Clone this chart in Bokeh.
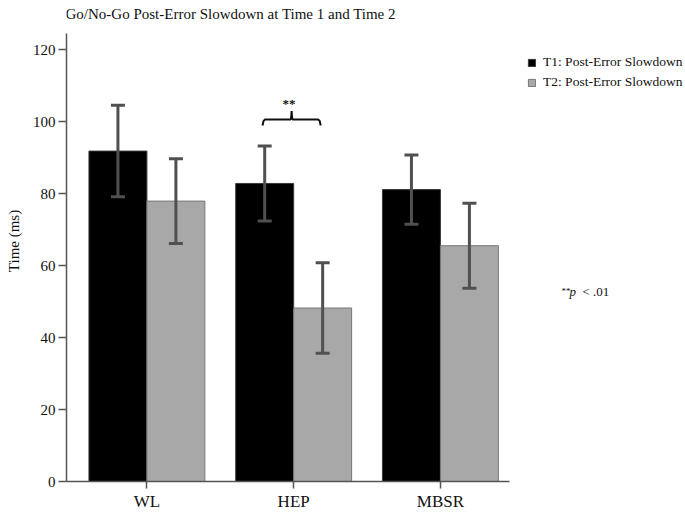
from bokeh.plotting import figure
from bokeh.models import (ColumnDataSource, FixedTicker, Whisker, TeeHead, Label,
                          Legend, LegendItem)
from bokeh.core.properties import value
from bokeh.embed import file_html
from bokeh.resources import INLINE

# ---- data ----
groups = ["WL", "HEP", "MBSR"]
t1_mean = [91.8, 82.8, 81.1]
t1_se = [12.7, 10.4, 9.6]
t2_mean = [77.9, 48.2, 65.5]
t2_se = [11.8, 12.6, 11.8]
series_names = ["T1: Post-Error Slowdown", "T2: Post-Error Slowdown"]
y_ticks = [0, 20, 40, 60, 80, 100, 120]
title_text = "Go/No-Go Post-Error Slowdown at Time 1 and Time 2"

SERIF = "Liberation Serif"
BAR_W = 0.395
OFF = BAR_W / 2
pos = [i + 1 for i in range(len(groups))]
Y_AXIS_TOP = 124.5

p = figure(width=685, height=513, x_range=(0.452, 4.67), y_range=(0, 133.63),
           output_backend="svg", toolbar_location=None,
           min_border_left=66, min_border_top=0, min_border_bottom=30,
           min_border_right=0)
p.title = None
p.outline_line_color = None
p.xgrid.grid_line_color = None
p.ygrid.grid_line_color = None
p.background_fill_color = "white"

src1 = ColumnDataSource(dict(x=[v - OFF for v in pos], top=t1_mean,
                             lo=[m - s for m, s in zip(t1_mean, t1_se)],
                             hi=[m + s for m, s in zip(t1_mean, t1_se)]))
src2 = ColumnDataSource(dict(x=[v + OFF for v in pos], top=t2_mean,
                             lo=[m - s for m, s in zip(t2_mean, t2_se)],
                             hi=[m + s for m, s in zip(t2_mean, t2_se)]))

r1 = p.vbar(x="x", top="top", width=BAR_W, bottom=0, source=src1,
            fill_color="#000000", line_color="#3a3a3a", line_width=1)
r2 = p.vbar(x="x", top="top", width=BAR_W, bottom=0, source=src2,
            fill_color="#a8a8a8", line_color="#777777", line_width=1)

for src in (src1, src2):
    w = Whisker(base="x", lower="lo", upper="hi", source=src,
                line_color="#505050", line_width=3, level="overlay",
                upper_head=TeeHead(size=14, line_color="#505050", line_width=3),
                lower_head=TeeHead(size=14, line_color="#505050", line_width=3))
    p.add_layout(w)

# significance bracket over HEP
hx = pos[1]
bx = [hx - 0.212, hx - 0.206, hx - 0.195, hx - 0.02, hx - 0.017, hx - 0.014,
      hx - 0.011, hx - 0.008, hx + 0.167, hx + 0.178, hx + 0.184]
by = [98.9, 100.1, 100.6, 100.6, 101.2, 102.9, 101.2, 100.6, 100.6, 100.1, 98.9]
p.line(bx, by, line_color="#111111", line_width=2)
p.text(x=[hx - 0.031], y=[105.0], text=["**"], text_font=value(SERIF),
       text_font_size="13px", text_font_style="bold", text_align="center",
       text_baseline="alphabetic", text_color="#111111")

# title (inside the extended frame area)
p.add_layout(Label(x=-1, y=468, x_units="screen", y_units="screen",
                   text=title_text, text_font=SERIF, text_font_size="15px",
                   text_align="left", text_baseline="alphabetic",
                   text_color="#111111"))

# axes
yax = p.yaxis[0]
yax.ticker = FixedTicker(ticks=y_ticks)
yax.bounds = (0, Y_AXIS_TOP)
yax.major_tick_out = 8
yax.major_tick_in = 0
yax.minor_tick_line_color = None
yax.axis_line_color = "#555555"
yax.axis_line_width = 1.5
yax.major_tick_line_color = "#555555"
yax.major_tick_line_width = 1.5
yax.major_label_text_font = SERIF
yax.major_label_text_font_size = "15px"
yax.major_label_text_color = "#111111"
yax.major_label_standoff = 3
yax.axis_label = "Time (ms)"
yax.axis_label_text_font = SERIF
yax.axis_label_text_font_size = "15px"
yax.axis_label_text_font_style = "normal"
yax.axis_label_text_color = "#111111"
yax.axis_label_standoff = 8

xax = p.xaxis[0]
xax.ticker = FixedTicker(ticks=pos)
xax.major_label_overrides = {xp: g for xp, g in zip(pos, groups)}
xax.bounds = (0.452, 3.47)
xax.major_tick_out = 7
xax.major_tick_in = 0
xax.minor_tick_line_color = None
xax.axis_line_color = "#555555"
xax.axis_line_width = 1.5
xax.major_tick_line_color = "#555555"
xax.major_tick_line_width = 1.5
xax.major_label_text_font = SERIF
xax.major_label_text_font_size = "17px"
xax.major_label_text_color = "#111111"
xax.major_label_standoff = 3

# legend
legend = Legend(items=[LegendItem(label=series_names[0], renderers=[r1]),
                       LegendItem(label=series_names[1], renderers=[r2])],
                location=(461, 389), orientation="vertical",
                glyph_width=9, glyph_height=9, label_standoff=7,
                label_height=20, spacing=0, padding=0, margin=0,
                label_text_font=SERIF, label_text_font_size="13.5px",
                label_text_color="#111111",
                border_line_color=None, background_fill_alpha=0)
p.add_layout(legend)

# p-value note
p.add_layout(Label(x=495, y=191, x_units="screen", y_units="screen", text="**",
                   text_font=SERIF, text_font_size="9px",
                   text_baseline="alphabetic", text_color="#111111"))
p.add_layout(Label(x=503, y=190, x_units="screen", y_units="screen", text="p",
                   text_font=SERIF, text_font_size="13px",
                   text_font_style="italic",
                   text_baseline="alphabetic", text_color="#111111"))
p.add_layout(Label(x=516, y=190, x_units="screen", y_units="screen", text="< .01",
                   text_font=SERIF, text_font_size="13px",
                   text_baseline="alphabetic", text_color="#111111"))

open("out.html", "w").write(file_html(p, INLINE))
